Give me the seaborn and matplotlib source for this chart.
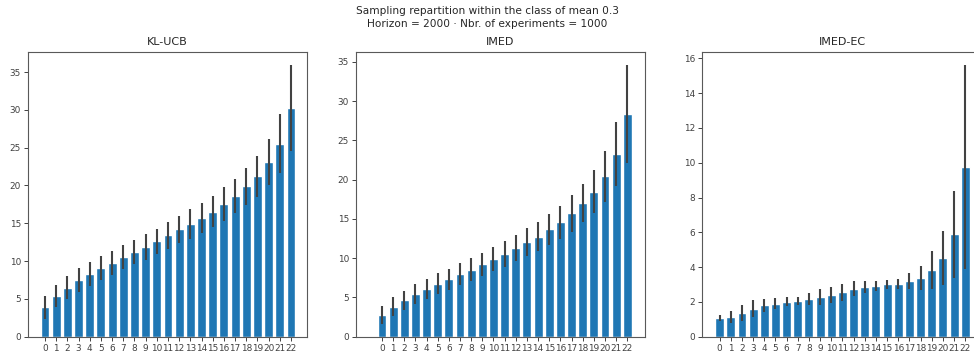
import numpy as np
import pandas as pd
import seaborn as sns
import matplotlib
matplotlib.use("Agg")
import matplotlib.pyplot as plt

arms = list(range(23))

klucb_mean = [3.9, 5.4, 6.5, 7.5, 8.3, 9.1, 9.8, 10.5, 11.2, 11.9, 12.6, 13.4,
              14.2, 14.9, 15.7, 16.5, 17.5, 18.6, 19.9, 21.2, 23.1, 25.5, 30.2]
klucb_std = [1.5, 1.5, 1.5, 1.55, 1.6, 1.55, 1.6, 1.6, 1.65, 1.7, 1.65, 1.75,
             1.75, 1.95, 2.0, 2.05, 2.25, 2.3, 2.45, 2.7, 3.1, 3.9, 5.7]

imed_mean = [2.75, 3.8, 4.65, 5.4, 6.1, 6.75, 7.3, 7.95, 8.55, 9.2, 9.9, 10.55,
             11.3, 12.05, 12.75, 13.65, 14.55, 15.7, 17.0, 18.45, 20.45, 23.25, 28.35]
imed_std = [1.1, 1.2, 1.22, 1.27, 1.3, 1.3, 1.33, 1.4, 1.5, 1.48, 1.54, 1.63,
            1.7, 1.75, 1.85, 2.0, 2.1, 2.35, 2.45, 2.75, 3.25, 4.1, 6.2]

imedec_mean = [1.05, 1.14, 1.37, 1.62, 1.81, 1.9, 2.0, 2.06, 2.17, 2.28, 2.4, 2.56,
               2.76, 2.86, 2.91, 3.01, 3.05, 3.2, 3.4, 3.85, 4.55, 5.9, 9.75]
imedec_std = [0.17, 0.35, 0.47, 0.5, 0.38, 0.3, 0.26, 0.24, 0.32, 0.45, 0.48, 0.49,
              0.43, 0.35, 0.27, 0.27, 0.29, 0.46, 0.69, 1.1, 1.55, 2.5, 5.85]

algos = ["KL-UCB", "IMED", "IMED-EC"]
means = [klucb_mean, imed_mean, imedec_mean]
stds = [klucb_std, imed_std, imedec_std]

sns.set_theme(style="ticks", rc={
    "axes.edgecolor": ".35",
    "axes.linewidth": 0.8,
    "xtick.color": ".25",
    "ytick.color": ".25",
    "xtick.major.size": 3,
    "ytick.major.size": 3,
    "xtick.major.width": 0.7,
    "ytick.major.width": 0.7,
    "xtick.labelsize": 6.4,
    "ytick.labelsize": 6.4,
    "axes.titlesize": 8,
    "text.color": ".15",
})

fig = plt.figure(figsize=(9.74, 3.58), dpi=100)
W, H = 974, 358
# axes boxes in pixels: left, right
boxes = [(28, 307), (356, 645), (702, 982)]
xlims = [(-1.52, 23.43), (-2.33, 23.59), (-1.58, 23.5)]
top, bottom = 51.7, 336.7

for i, name in enumerate(algos):
    l, r = boxes[i]
    ax = fig.add_axes([l / W, 1 - bottom / H, (r - l) / W, (bottom - top) / H])
    df = pd.DataFrame({"arm": arms, "mean": means[i], "std": stds[i]})
    sns.barplot(data=df, x="arm", y="mean", color="#1f77b4", saturation=1,
                width=0.8, errorbar=None, ax=ax)
    ax.errorbar(df["arm"], df["mean"], yerr=df["std"], fmt="none",
                ecolor=".26", elinewidth=1.5, capsize=0)
    ax.set_xlim(*xlims[i])
    top_val = max(np.array(means[i]) + np.array(stds[i]))
    ax.set_ylim(0, top_val * 1.05)
    ax.set_title(name, pad=5)
    ax.set_xlabel("")
    ax.set_ylabel("")
    ax.tick_params(axis="x", pad=2)
    ax.tick_params(axis="y", pad=2)

fig.suptitle("Sampling repartition within the class of mean 0.3\n"
             "Horizon = 2000 · Nbr. of experiments = 1000",
             fontsize=7.6, y=0.982, va="top", linespacing=1.35)

fig.savefig("out.png", dpi=100)
